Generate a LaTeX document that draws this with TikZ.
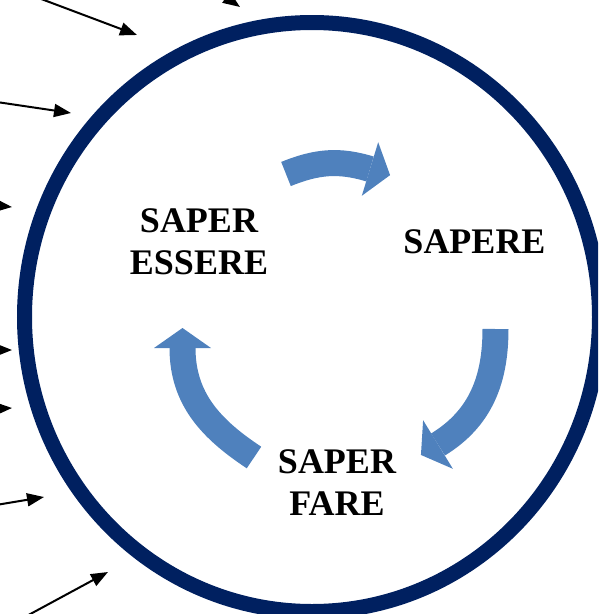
\documentclass[tikz,border=0pt]{standalone}
\usepackage{fontspec}
\setmainfont{Liberation Serif}
\usetikzlibrary{calc,arrows.meta}
\definecolor{navy}{RGB}{0,32,96}
\definecolor{cycblue}{RGB}{79,129,189}
\tikzset{
  inarrow/.style={draw=black,line width=2pt,-{Triangle[length=17pt,width=13pt]}},
  shaft/.style={draw=cycblue,line width=26pt},
  headfill/.style={fill=cycblue},
  label/.style={font=\fontsize{36}{42}\selectfont\bfseries,align=center,inner sep=0pt,anchor=base}
}
\begin{document}
\begin{tikzpicture}[x=1pt,y=1pt]
\useasboundingbox (0,0) rectangle (598,-614);
\clip (0,0) rectangle (598,-614);
% big ring
\draw[navy,line width=15pt] (312,-317) ellipse [x radius=287.5, y radius=294.5];
% incoming arrows
\coordinate (s1) at (20,9);     \coordinate (e1) at (137,-35);
\coordinate (s2) at (-10,-101); \coordinate (e2) at (71,-113);
\coordinate (s3) at (190,28);   \coordinate (e3) at (240,-7);
\coordinate (s4) at (-30,-203); \coordinate (e4) at (12,-207);
\coordinate (s5) at (-30,-350); \coordinate (e5) at (12,-350);
\coordinate (s6) at (-30,-410); \coordinate (e6) at (12,-408);
\coordinate (s7) at (-10,-506); \coordinate (e7) at (44,-497);
\coordinate (s8) at (10,-625);  \coordinate (e8) at (108,-572);
\foreach \i in {1,...,8} \draw[inarrow] (s\i) -- (e\i);
% blue cycle arrows
\coordinate (tT) at (286,-174); \coordinate (bT) at (370,-169);
\draw[shaft] (tT) to[out=22,in=163] (bT);
\fill[headfill] ($(bT)+(73:28)$) -- ($(bT)+(-107:28)$) -- ($(bT)+(-17:21)$) -- cycle;
\coordinate (tR) at (495.5,-329); \coordinate (bR) at (438,-444.5);
\draw[shaft] (tR) to[out=-90,in=31.5] (bR);
\fill[headfill] ($(bR)+(301.5:28.5)$) -- ($(bR)+(121.5:28.5)$) -- ($(bR)+(211.5:20)$) -- cycle;
\coordinate (tL) at (254,-457.5); \coordinate (bL) at (182.5,-348);
\draw[shaft] (tL) to[out=146.5,in=-90] (bL);
\fill[headfill] ($(bL)+(0:28.5)$) -- ($(bL)+(180:28.5)$) -- ($(bL)+(90:20)$) -- cycle;
% labels
\node[label] (essere) at (199,-274) {SAPER\\ESSERE};
\node[label] (sapere) at (474.5,-253) {SAPERE};
\node[label] (fare) at (337,-515) {SAPER\\FARE};
\end{tikzpicture}
\end{document}
